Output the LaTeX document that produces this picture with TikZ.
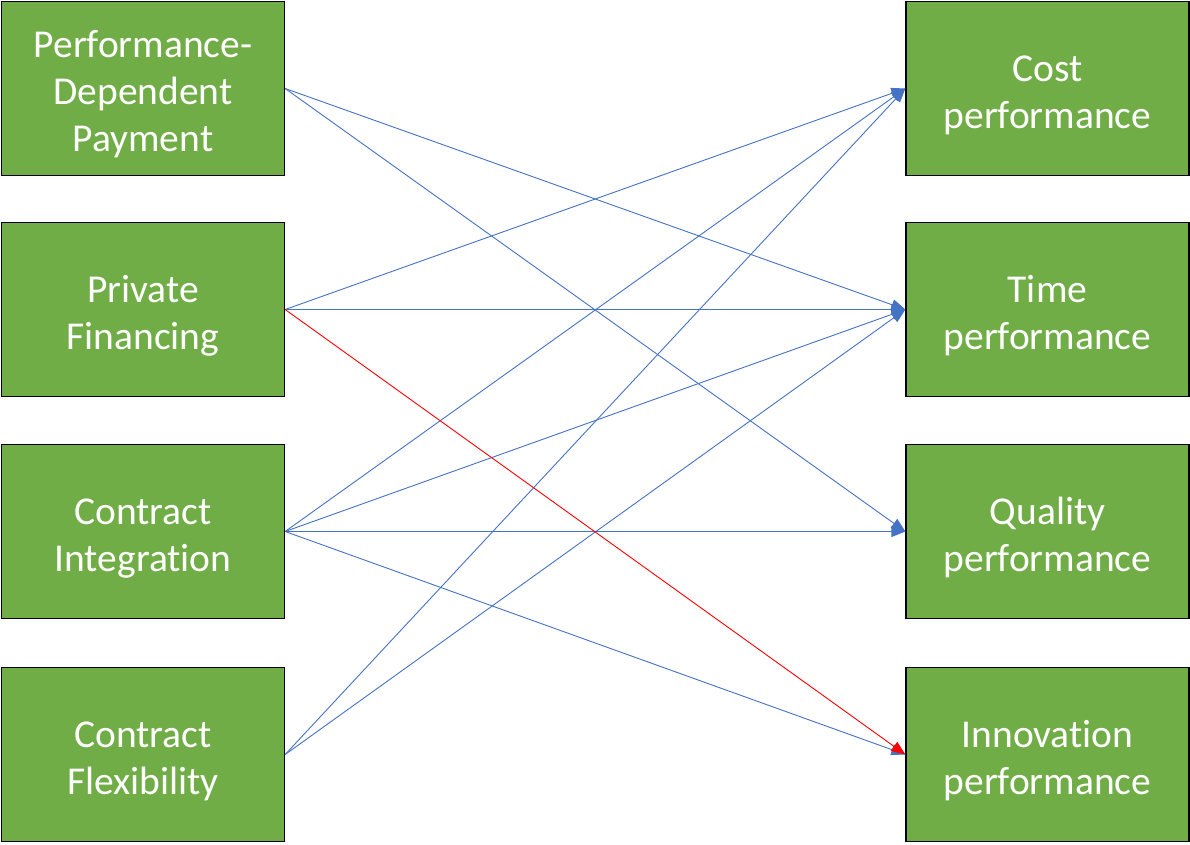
\documentclass[tikz,border=0pt]{standalone}
\usepackage{fontspec}
\setmainfont{Carlito}[Ligatures={CommonOff,ContextualOff}]
\usetikzlibrary{arrows.meta}
\definecolor{boxgreen}{HTML}{70AD47}
\definecolor{linkblue}{HTML}{4472C4}
\definecolor{linkred}{HTML}{FF0000}
\newcommand\toppad{\rule{0pt}{39pt}}
\begin{document}
\begin{tikzpicture}[x=1pt,y=-1pt,
  box/.style={draw=black, line width=1.3pt, fill=boxgreen, text=white,
    minimum width=283pt, minimum height=174pt, inner sep=0pt, align=center,
    font=\fontsize{39.5}{47}\selectfont},
  link/.style={draw=linkblue, line width=0.9pt, -{Triangle[length=14pt,width=11pt]}},
  redlink/.style={draw=linkred, line width=0.9pt, -{Triangle[length=14pt,width=11pt]}}
]
\useasboundingbox (0,0) rectangle (1190,844);
\node[box] (pdp) at (143,88.5) {\toppad Performance-\\Dependent\\Payment};
\node[box] (pf) at (143,309.5) {\toppad Private\\Financing};
\node[box] (ci) at (143,531.5) {\toppad Contract\\Integrat\kern0pt ion};
\node[box] (cf) at (143,754.5) {\toppad Contract\\Flexibility};
\node[box] (cost) at (1047.5,88.5) {\toppad Cost\\performance};
\node[box] (time) at (1047.5,309.5) {\toppad Time\\performance};
\node[box] (qual) at (1047.5,531.5) {\toppad Quality\\performance};
\node[box] (inno) at (1047.5,754.5) {\toppad Innovat\kern0pt ion\\performance};
\draw[link] (pdp.east) -- (time.west);
\draw[link] (pdp.east) -- (qual.west);
\draw[link] (pf.east) -- (cost.west);
\draw[link] (pf.east) -- (time.west);
\draw[link] (ci.east) -- (cost.west);
\draw[link] (ci.east) -- (time.west);
\draw[link] (ci.east) -- (qual.west);
\draw[link] (ci.east) -- (inno.west);
\draw[link] (cf.east) -- (cost.west);
\draw[link] (cf.east) -- (time.west);
\draw[redlink] (pf.east) -- (inno.west);
\end{tikzpicture}
\end{document}
